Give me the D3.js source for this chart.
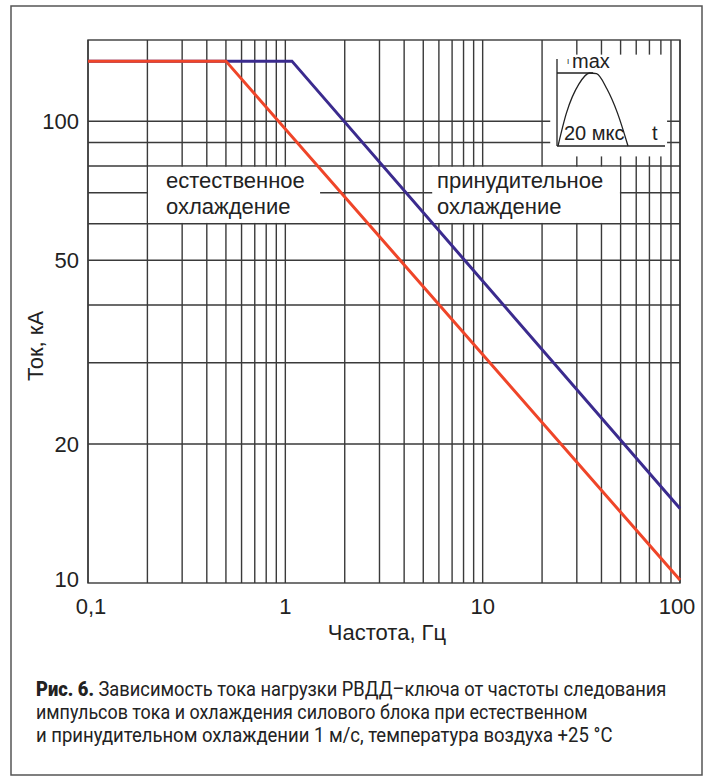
<!DOCTYPE html>
<html>
<head>
<meta charset="utf-8">
<script src="https://cdn.jsdelivr.net/npm/d3@7"></script>
<style>
  html, body { margin: 0; padding: 0; background: #fff; }
  svg { display: block; }
</style>
</head>
<body>
<div id="chart"></div>
<script>
// natural cooling (red) and forced cooling 1 m/s (blue)
const freqNatural = [0.1, 0.5, 100];
const currNatural = [135, 135, 10.15];
const freqForced = [0.1, 1.08, 100];
const currForced = [135, 135, 14.5];

const xTickValues = [0.1, 1, 10, 100];
const xTickLabels = ["0,1", "1", "10", "100"];
const yTickValues = [10, 20, 50, 100];
const yTickLabels = ["10", "20", "50", "100"];
const yGridValues = [20, 30, 40, 50, 60, 70, 80, 90, 100];

// pulse sketch in the inset, normalised time / amplitude
const pulseT = [0, 0.12, 0.3, 0.45, 0.55, 0.7, 0.85, 1];
const pulseA = [0, 0.45, 0.85, 1, 0.99, 0.78, 0.45, 0];

const captionLines = [
    { bold: "Рис. 6.", text: " Зависимость тока нагрузки РВДД–ключа от частоты следования", w: 631 },
    { bold: "", text: "импульсов тока и охлаждения силового блока при естественном", w: 552 },
    { bold: "", text: "и принудительном охлаждении 1 м/с, температура воздуха +25 °C", w: 577 }
];

const W = 714, H = 776;
const margin = { top: 40, right: 34, bottom: 193, left: 88 };
const gridColor = "#3a3a3a";
const font = "'Liberation Sans', Arial, sans-serif";

const svg = d3.select("#chart").append("svg")
    .attr("width", W).attr("height", H)
    .attr("font-family", font);

// outer frame
svg.append("rect")
    .attr("x", 11).attr("y", 6)
    .attr("width", 691).attr("height", 769)
    .attr("fill", "none")
    .attr("stroke", "#555")
    .attr("stroke-width", 1.5);

const x = d3.scaleLog().domain([0.1, 100]).range([margin.left, W - margin.right]);
const y = d3.scaleLog().domain([10, 150]).range([H - margin.bottom, margin.top]);

const g = svg.append("g");

// grid
g.append("g")
    .selectAll("line")
    .data(x.ticks())
    .join("line")
    .attr("x1", d => x(d)).attr("x2", d => x(d))
    .attr("y1", y.range()[1]).attr("y2", y.range()[0])
    .attr("stroke", gridColor)
    .attr("stroke-width", 1.4);

g.append("g")
    .selectAll("line")
    .data(yGridValues)
    .join("line")
    .attr("x1", x.range()[0]).attr("x2", x.range()[1])
    .attr("y1", d => y(d)).attr("y2", d => y(d))
    .attr("stroke", gridColor)
    .attr("stroke-width", 1.4);

// white patches behind the labels and the inset
const patches = [
    { f0: 0.2015, f1: 1.5, i0: 80, i1: 60 },
    { f0: 5.55, f1: 49.6, i0: 80, i1: 60 },
    { f0: 22, f1: 86, i0: 140, i1: 83.6 }
];
g.append("g")
    .selectAll("rect")
    .data(patches)
    .join("rect")
    .attr("x", d => x(d.f0))
    .attr("y", d => y(d.i0) + 0.8)
    .attr("width", d => x(d.f1) - x(d.f0))
    .attr("height", d => y(d.i1) - y(d.i0) - 1.6)
    .attr("fill", "#fff");

// plot frame
g.append("rect")
    .attr("x", x.range()[0]).attr("y", y.range()[1])
    .attr("width", x.range()[1] - x.range()[0])
    .attr("height", y.range()[0] - y.range()[1])
    .attr("fill", "none")
    .attr("stroke", gridColor)
    .attr("stroke-width", 1.4);

// curves
const line = d3.line().x(d => x(d[0])).y(d => y(d[1]));
g.append("path")
    .datum(d3.zip(freqForced, currForced))
    .attr("d", line)
    .attr("fill", "none")
    .attr("stroke", "#3b2b8e")
    .attr("stroke-width", 3);
g.append("path")
    .datum(d3.zip(freqNatural, currNatural))
    .attr("d", line)
    .attr("fill", "none")
    .attr("stroke", "#ef4529")
    .attr("stroke-width", 3);

// tick labels
svg.append("g")
    .attr("font-size", 22)
    .attr("fill", "#222")
    .selectAll("text")
    .data(xTickValues)
    .join("text")
    .attr("x", (d, i) => x(d) + (i === 0 ? 3 : i === 3 ? -3 : 0))
    .attr("y", 614)
    .attr("text-anchor", "middle")
    .text((d, i) => xTickLabels[i]);

svg.append("g")
    .attr("font-size", 22)
    .attr("fill", "#222")
    .selectAll("text")
    .data(yTickValues)
    .join("text")
    .attr("x", 79)
    .attr("y", (d, i) => y(d) + (i === 0 ? 4 : 8))
    .attr("text-anchor", "end")
    .text((d, i) => yTickLabels[i]);

// axis titles
svg.append("text")
    .attr("x", 387).attr("y", 640)
    .attr("text-anchor", "middle")
    .attr("font-size", 22)
    .attr("fill", "#222")
    .text("Частота, Гц");

svg.append("text")
    .attr("transform", "translate(43,346) rotate(-90)")
    .attr("text-anchor", "middle")
    .attr("font-size", 22)
    .attr("fill", "#222")
    .text("Ток, кА");

// curve labels
const labels = [
    { x: 166, lines: ["естественное", "охлаждение"] },
    { x: 437, lines: ["принудительное", "охлаждение"] }
];
labels.forEach(l => {
    svg.append("text")
        .attr("font-size", 22)
        .attr("fill", "#222")
        .selectAll("tspan")
        .data(l.lines)
        .join("tspan")
        .attr("x", l.x)
        .attr("y", (d, i) => 188 + i * 26)
        .text(d => d);
});

// inset: current pulse
const px = d3.scaleLinear().domain([0, 1]).range([558, 628]);
const py = d3.scaleLinear().domain([0, 1]).range([146, 73]);
const inset = svg.append("g")
    .attr("stroke", "#222")
    .attr("stroke-width", 1.3)
    .attr("fill", "none");
inset.append("line").attr("x1", 557).attr("x2", 557).attr("y1", 59).attr("y2", 146);
inset.append("line").attr("x1", 557).attr("x2", 665).attr("y1", 146).attr("y2", 146);
inset.append("line").attr("x1", 557).attr("x2", px(0.5)).attr("y1", py(1)).attr("y2", py(1));
inset.append("path")
    .datum(d3.zip(pulseT, pulseA))
    .attr("d", d3.line().x(d => px(d[0])).y(d => py(d[1])).curve(d3.curveMonotoneX));

const insetText = svg.append("g").attr("fill", "#222");
insetText.append("text").attr("x", 567).attr("y", 64).attr("font-size", 8).text("I");
insetText.append("text").attr("x", 572).attr("y", 68).attr("font-size", 20).text("max");
insetText.append("text").attr("x", 564).attr("y", 140).attr("font-size", 20).text("20 мкс");
insetText.append("text").attr("x", 652).attr("y", 140).attr("font-size", 20).text("t");

// caption: condensed by squeezing horizontally to the measured widths
const cap = svg.append("g")
    .attr("font-family", "'Liberation Sans Narrow', 'Roboto', 'Liberation Sans', sans-serif")
    .attr("font-size", 20)
    .attr("fill", "#222");
captionLines.forEach((c, i) => {
    const t = cap.append("text");
    if (c.bold) t.append("tspan").attr("font-weight", 900).text(c.bold);
    t.append("tspan").text(c.text);
    const len = t.node().getComputedTextLength();
    const sx = Math.min(1, c.w / len);
    t.attr("transform", `translate(36,${696 + i * 23}) scale(${sx},1)`);
});
</script>
</body>
</html>
